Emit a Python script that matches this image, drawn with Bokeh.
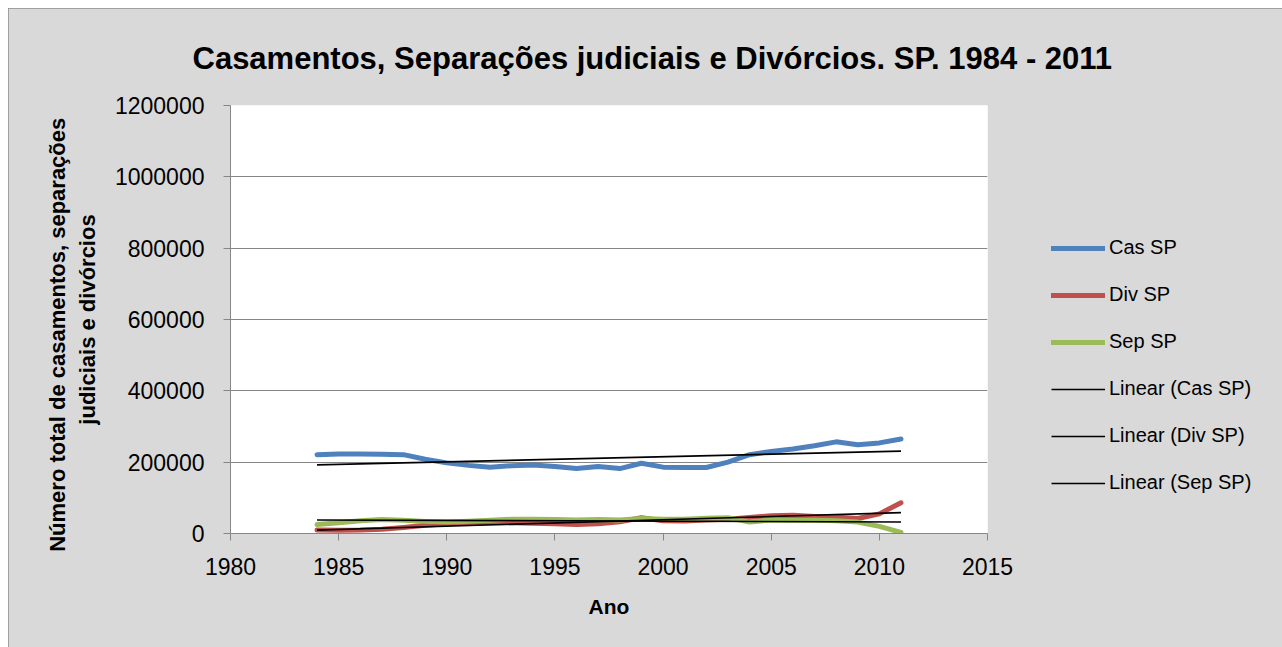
import numpy as np
from bokeh.plotting import figure
from bokeh.models import Legend, LegendItem, FixedTicker, BasicTickFormatter
from bokeh.embed import file_html
from bokeh.resources import INLINE

# ---- data ----
years = list(range(1984, 2012))
cas_sp = [221000, 223000, 223000, 222000, 221000, 208000, 198000, 191000, 186000, 190000,
          192000, 188000, 182000, 188000, 182000, 197000, 186000, 185000, 185000, 200000,
          221000, 230000, 237000, 246000, 257000, 249000, 254000, 265000]
div_sp = [9500, 9000, 9500, 12000, 17000, 23000, 27000, 29000, 30000, 30000,
          29000, 27000, 25000, 27000, 33000, 44000, 36000, 35000, 38000, 40000,
          45000, 50000, 51000, 48000, 46000, 42000, 55000, 86000]
sep_sp = [25000, 30000, 36000, 39000, 37000, 34000, 32000, 34000, 37000, 40000,
          40000, 39000, 38000, 39000, 38000, 42000, 40000, 40000, 43000, 44000,
          32000, 38000, 37000, 37000, 36000, 32000, 20000, 3000]
series_names = ["Cas SP", "Div SP", "Sep SP"]
series_colors = ["#4F81BD", "#C0504D", "#9BBB59"]
x_ticks = [1980, 1985, 1990, 1995, 2000, 2005, 2010, 2015]
y_ticks = [0, 200000, 400000, 600000, 800000, 1000000, 1200000]

FONT = "Liberation Sans"

p = figure(frame_width=757, frame_height=428, output_backend="svg", toolbar_location=None,
           x_range=(1980, 2015), y_range=(0, 1200000),
           min_border_left=222, min_border_right=0, min_border_top=97, min_border_bottom=114)
p.border_fill_color = "#D9D9D9"
p.background_fill_color = "white"
p.outline_line_color = None
p.styles = {"margin-left": "8px", "margin-top": "8px",
            "outline": "1px solid #8C8C8C", "outline-offset": "-1px"}

p.title.text = "Casamentos, Separações judiciais e Divórcios. SP. 1984 - 2011"
p.title.text_font = FONT
p.title.text_font_size = "31px"
p.title.text_font_style = "bold"
p.title.align = "left"
p.title.vertical_align = "top"
p.title.offset = -38
p.title.standoff = 55
p.title.text_color = "black"

# grid
p.xgrid.grid_line_color = None
p.ygrid.grid_line_color = "#868686"
p.ygrid.grid_line_width = 1
p.ygrid.ticker = FixedTicker(ticks=y_ticks)

# axes
for ax in (p.xaxis[0], p.yaxis[0]):
    ax.axis_line_color = "#868686"
    ax.major_tick_line_color = "#868686"
    ax.minor_tick_line_color = None
    ax.major_tick_in = 0
    ax.major_tick_out = 7
    ax.major_label_text_font = FONT
    ax.major_label_text_font_size = "23px"
    ax.major_label_text_color = "black"
    ax.axis_label_text_font = FONT
    ax.axis_label_text_font_size = "22px"
    ax.axis_label_text_font_style = "bold"
    ax.axis_label_text_color = "black"

p.xaxis[0].ticker = FixedTicker(ticks=x_ticks)
p.yaxis[0].ticker = FixedTicker(ticks=y_ticks)
p.yaxis[0].formatter = BasicTickFormatter(use_scientific=False)
p.xaxis[0].axis_label = "Ano"
p.yaxis[0].axis_label = ("Número total de casamentos, separações" + "\u00a0" * 5
                         + "\njudiciais e divórcios")
p.xaxis[0].major_label_standoff = 17
p.yaxis[0].major_label_standoff = 19
p.xaxis[0].axis_label_standoff = 17
p.yaxis[0].axis_label_standoff = 12
p.xaxis[0].axis_label_text_font_size = "21px"

# series
data = [cas_sp, div_sp, sep_sp]
renderers = []
for vals, col in zip(data, series_colors):
    r = p.line(years, vals, line_color=col, line_width=5, line_join="round", line_cap="round")
    renderers.append(r)

# linear trend lines (least squares from the series)
trend_renderers = []
xs = np.array(years, dtype=float)
for vals in data:
    a, b = np.polyfit(xs, np.array(vals, dtype=float), 1)
    xe = [years[0], years[-1]]
    ye = [a * years[0] + b, a * years[-1] + b]
    r = p.line(xe, ye, line_color="black", line_width=1.6)
    trend_renderers.append(r)

items = [LegendItem(label=n, renderers=[r]) for n, r in zip(series_names, renderers)]
items += [LegendItem(label="Linear (%s)" % n, renderers=[r]) for n, r in zip(series_names, trend_renderers)]
legend = Legend(items=items, location=(64, 39), orientation="vertical")
legend.background_fill_alpha = 0
legend.border_line_color = None
legend.label_text_font = FONT
legend.label_text_font_size = "20px"
legend.label_text_color = "black"
legend.glyph_width = 54
legend.glyph_height = 20
legend.label_height = 20
legend.label_standoff = 4
legend.spacing = 24
legend.padding = 0
legend.margin = 0
p.add_layout(legend, "right")

open("out.html", "w").write(file_html(p, INLINE))
